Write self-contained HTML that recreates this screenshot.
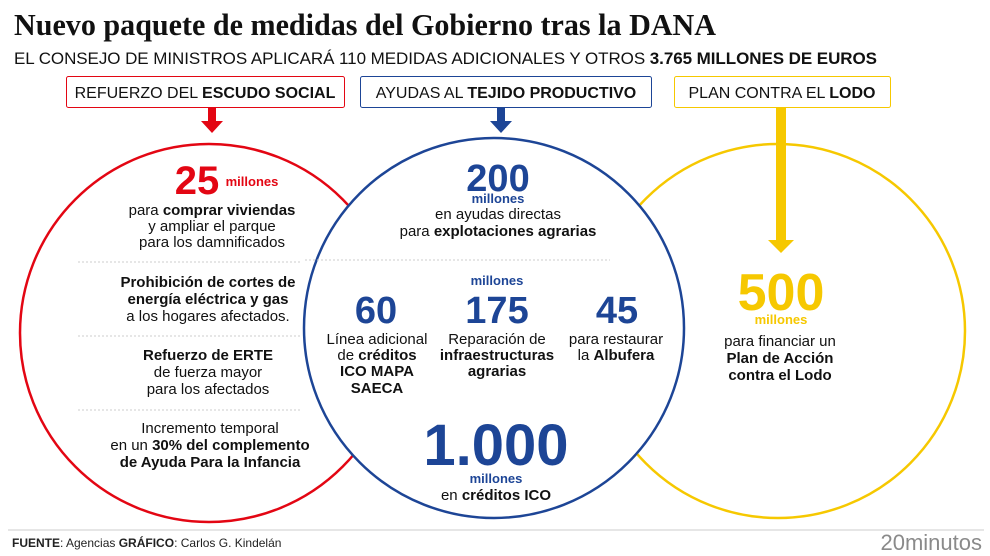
<!DOCTYPE html>
<html><head><meta charset="utf-8"><style>
html,body{margin:0;padding:0;background:#fff}
svg{display:block;font-family:"Liberation Sans",sans-serif}
.t{font-size:15px;fill:#111;text-anchor:middle}
.b{font-weight:bold}
</style></head><body>
<svg width="990" height="556" viewBox="0 0 990 556">
<text x="14" y="35" font-family="Liberation Serif" font-weight="bold" font-size="31" fill="#111" textLength="702" lengthAdjust="spacingAndGlyphs">Nuevo paquete de medidas del Gobierno tras la DANA</text>
<text x="14" y="64" font-size="17" fill="#111" textLength="863">EL CONSEJO DE MINISTROS APLICARÁ 110 MEDIDAS ADICIONALES Y OTROS <tspan font-weight="bold">3.765 MILLONES DE EUROS</tspan></text>

<g>
<rect x="66.5" y="76.5" width="278" height="31" rx="2" fill="#fff" stroke="#e30613"/>
<text x="205" y="98" font-size="16" text-anchor="middle" fill="#111">REFUERZO DEL <tspan font-weight="bold">ESCUDO SOCIAL</tspan></text>
</g>
<g>
<rect x="360.5" y="76.5" width="291" height="31" rx="2" fill="#fff" stroke="#1d4596"/>
<text x="506" y="98" font-size="16" text-anchor="middle" fill="#111">AYUDAS AL <tspan font-weight="bold">TEJIDO PRODUCTIVO</tspan></text>
</g>
<g>
<rect x="674.5" y="76.5" width="216" height="31" rx="2" fill="#fff" stroke="#f6c800"/>
<text x="782" y="98" font-size="16" text-anchor="middle" fill="#111">PLAN CONTRA EL <tspan font-weight="bold">LODO</tspan></text>
</g>

<circle cx="209" cy="333" r="189" fill="#fff" stroke="#e30613" stroke-width="2.5"/>
<circle cx="778" cy="331" r="187" fill="#fff" stroke="#f6c800" stroke-width="2.5"/>
<circle cx="494" cy="328" r="190" fill="#fff" stroke="#1d4596" stroke-width="2.5"/>

<polygon points="208,108 216,108 216,121 223,121 212,133 201,121 208,121" fill="#e30613"/>
<polygon points="497,108 505,108 505,121 512,121 501,133 490,121 497,121" fill="#1d4596"/>
<polygon points="776,108 786,108 786,240 794,240 781,253 768,240 776,240" fill="#f6c800"/>

<g>
<text x="197" y="194" font-size="40" font-weight="bold" fill="#e30613" text-anchor="middle">25</text>
<text x="252" y="186" font-size="13" font-weight="bold" fill="#e30613" text-anchor="middle">millones</text>
<text class="t" x="212" y="215">para <tspan class="b">comprar viviendas</tspan></text>
<text class="t" x="212" y="231">y ampliar el parque</text>
<text class="t" x="212" y="247">para los damnificados</text>
<line x1="78" y1="262" x2="302" y2="262" stroke="#ccc" stroke-dasharray="2 2"/>
<text class="t b" x="208" y="287">Prohibición de cortes de</text>
<text class="t b" x="208" y="304">energía eléctrica y gas</text>
<text class="t" x="208" y="321">a los hogares afectados.</text>
<line x1="78" y1="336" x2="302" y2="336" stroke="#ccc" stroke-dasharray="2 2"/>
<text class="t b" x="208" y="360">Refuerzo de ERTE</text>
<text class="t" x="208" y="377">de fuerza mayor</text>
<text class="t" x="208" y="394">para los afectados</text>
<line x1="78" y1="410" x2="302" y2="410" stroke="#ccc" stroke-dasharray="2 2"/>
<text class="t" x="210" y="433">Incremento temporal</text>
<text class="t" x="210" y="450">en un <tspan class="b">30% del complemento</tspan></text>
<text class="t b" x="210" y="467">de Ayuda Para la Infancia</text>
</g>

<g>
<text x="498" y="191" font-size="38" font-weight="bold" fill="#1d4596" text-anchor="middle">200</text>
<text x="498" y="203" font-size="13" font-weight="bold" fill="#1d4596" text-anchor="middle">millones</text>
<text class="t" x="498" y="219">en ayudas directas</text>
<text class="t" x="498" y="236">para <tspan class="b">explotaciones agrarias</tspan></text>
<line x1="305" y1="260" x2="610" y2="260" stroke="#ccc" stroke-dasharray="2 2"/>
<text x="497" y="285" font-size="13" font-weight="bold" fill="#1d4596" text-anchor="middle">millones</text>
<text x="376" y="323" font-size="38" font-weight="bold" fill="#1d4596" text-anchor="middle">60</text>
<text x="497" y="323" font-size="38" font-weight="bold" fill="#1d4596" text-anchor="middle">175</text>
<text x="617" y="323" font-size="38" font-weight="bold" fill="#1d4596" text-anchor="middle">45</text>
<text class="t" x="377" y="344">Línea adicional</text>
<text class="t" x="377" y="360">de <tspan class="b">créditos</tspan></text>
<text class="t b" x="377" y="376">ICO MAPA</text>
<text class="t b" x="377" y="393">SAECA</text>
<text class="t" x="497" y="344">Reparación de</text>
<text class="t b" x="497" y="360">infraestructuras</text>
<text class="t b" x="497" y="376">agrarias</text>
<text class="t" x="616" y="344">para restaurar</text>
<text class="t" x="616" y="360">la <tspan class="b">Albufera</tspan></text>
<text x="496" y="465" font-size="58" font-weight="bold" fill="#1d4596" text-anchor="middle">1.000</text>
<text x="496" y="483" font-size="13" font-weight="bold" fill="#1d4596" text-anchor="middle">millones</text>
<text class="t" x="496" y="500">en <tspan class="b">créditos ICO</tspan></text>
</g>

<g>
<text x="781" y="310" font-size="52" font-weight="bold" fill="#f6c800" text-anchor="middle">500</text>
<text x="781" y="324" font-size="13" font-weight="bold" fill="#f6c800" text-anchor="middle">millones</text>
<text class="t" x="780" y="346">para financiar un</text>
<text class="t b" x="780" y="363">Plan de Acción</text>
<text class="t b" x="780" y="380">contra el Lodo</text>
</g>

<line x1="8" y1="530" x2="984" y2="530" stroke="#ddd" stroke-width="1.5"/>
<text x="12" y="547" font-size="12" fill="#222"><tspan font-weight="bold">FUENTE</tspan>: Agencias   <tspan font-weight="bold">GRÁFICO</tspan>: Carlos G. Kindelán</text>
<text x="982" y="550" font-size="22" fill="#8a8a8a" text-anchor="end">20minutos</text>
</svg>
</body></html>
